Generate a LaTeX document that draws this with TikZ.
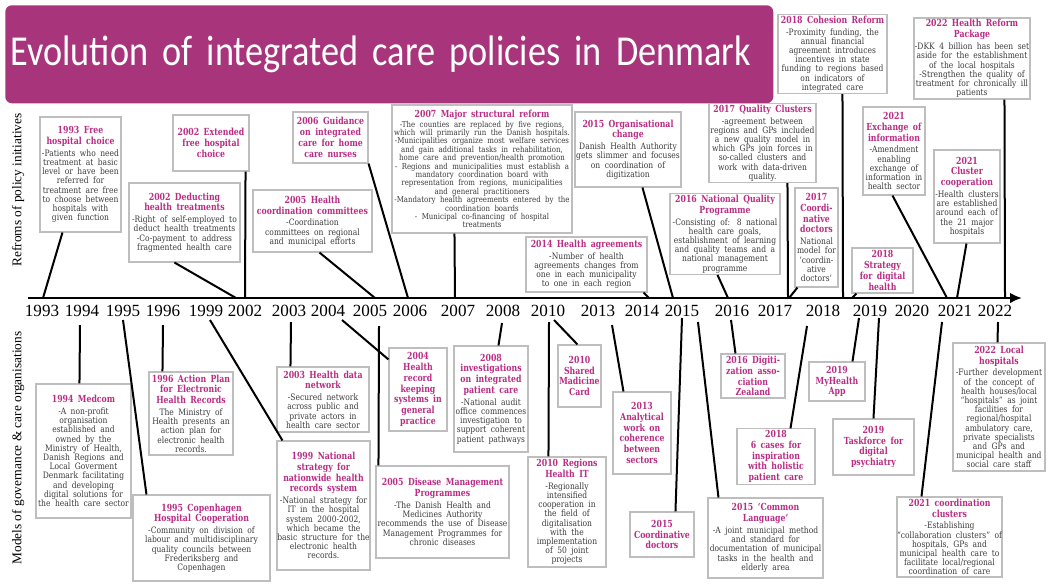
\documentclass[tikz,border=0pt]{standalone}
\usepackage{fontspec}
\setmainfont{DejaVu Serif}[FakeStretch=0.86]
\newfontfamily\headfont{DejaVu Serif}[FakeStretch=0.8]
\newfontfamily\yearfont{Liberation Serif}
\newfontfamily\sidefont{Liberation Serif}
\newfontfamily\bannerfont{Carlito}[FakeStretch=0.85]
\usetikzlibrary{calc,arrows.meta}
\definecolor{bannerc}{RGB}{168,52,124}
\definecolor{headc}{RGB}{184,46,132}
\definecolor{textc}{RGB}{60,60,60}
\definecolor{framec}{RGB}{190,190,190}
% box contents: magenta heading, grey body text
\newcommand\boxhead[1]{{\headfont\fontsize{7.3}{8.1}\selectfont\bfseries\color{headc}#1\par}}
\newcommand\boxtext[1]{{\vspace{2pt}\fontsize{6.6}{6.9}\selectfont\color{textc}#1\par}}
\newcommand\boxsmall[1]{{\vspace{1pt}\fontsize{6.1}{6.3}\selectfont\color{textc}#1\par}}
\begin{document}
\begin{tikzpicture}[x=0.75pt,y=-0.75pt,
  box/.style={draw=framec, line width=0.8pt, fill=white, align=center,
    inner xsep=-1pt, inner ysep=1pt,
    execute at begin node={\hyphenpenalty=10000\relax}},
  sz/.code 2 args={%
    \pgfmathsetlengthmacro\boxw{#1*0.75pt+2pt}%
    \pgfmathsetlengthmacro\boxh{#2*0.75pt}%
    \tikzset{text width/.expanded=\boxw, minimum height/.expanded=\boxh}},
  link/.style={line width=1.5pt, black},
  axisline/.style={line width=1.8pt, -{Latex[length=9pt,width=8pt]}},
  year/.style={font=\yearfont\fontsize{12.8}{13}\selectfont, inner sep=0pt},
  side/.style={font=\sidefont\fontsize{10}{12}\selectfont, rotate=90, inner sep=0pt},
  banner/.style={fill=bannerc, rounded corners=5pt, text=white, align=left,
    inner xsep=4pt, font=\bannerfont\fontsize{32}{34}\selectfont,
    execute at begin node={\hyphenpenalty=10000\relax}}]
\useasboundingbox (0,0) rectangle (1048,583);

% title banner
\node[banner, anchor=north west, minimum width=576pt, minimum height=73.5pt,
  text width=568pt] (title) at (5,5) {Evolution of integrated care policies in Denmark};

% side captions
\node[side] (sidetop) at (18,190) {Refroms of policy initiatives};
\node[side] (sidebot) at (18,448) {Models of governance \& care organisations};

% time axis and years
\coordinate (axstart) at (28,298);
\coordinate (axend) at (1022,298);
\draw[axisline] (axstart) -- (axend);
\foreach \yr/\xx in {1993/42,1994/82,1995/123,1996/163,1999/206,2002/245,2003/289,
  2004/328,2005/370,2006/410,2007/458,2008/503,2010/548,2013/598,2014/642,2015/682,
  2016/732,2017/775,2018/823,2019/870,2020/912,2021/955,2022/995}
  \node[year] (yr\yr) at (\xx,311) {\yr};

% ---------- reforms of policy initiatives (above the axis) ----------
\node[box, sz={81}{115}] (n1993) at (80.5,174.5) {\boxhead{1993 Free\\hospital choice}\boxtext{-Patients who need\\treatment at basic\\level or have been\\referred for\\treatment are free\\to choose between\\hospitals with\\given function}};
\node[box, sz={76}{56}] (n2002a) at (211,143) {\boxhead{2002 Extended\\free hospital\\choice}};
\node[box, sz={111}{79}] (n2002b) at (184.5,222.5) {\boxhead{2002 Deducting\\health treatments}\boxtext{-Right of self-employed to\\deduct health treatments\\-Co-payment to address\\fragmented health care}};
\node[box, sz={119}{62}] (n2005a) at (312.5,221) {\boxhead{2005 Health\\coordination committees}\boxtext{-Coordination\\committees on regional\\and municipal efforts}};
\node[box, sz={75}{51}] (n2006) at (330.5,137.5) {\boxhead{2006 Guidance\\on integrated\\care for home\\care nurses}};
\node[box, sz={180}{128}] (n2007) at (482,169) {\boxhead{2007 Major structural reform}\boxsmall{-The counties are replaced by five regions,\\which will primarily run the Danish hospitals.\\-Municipalities organize most welfare services\\and gain additional tasks in rehabilitation,\\home care and prevention/health promotion\\- Regions and municipalities must establish a\\mandatory coordination board with\\representation from regions, municipalities\\and general practitioners\\-Mandatory health agreements entered by the\\coordination boards\\- Municipal co-financing of hospital\\treatments}};
\node[box, sz={106}{75}] (n2015a) at (628,149.5) {\boxhead{2015 Organisational\\change}\boxtext{Danish Health Authority\\gets slimmer and focuses\\on coordination of\\digitization}};
\node[box, sz={121}{55}] (n2014) at (586.5,264.5) {\boxhead{2014 Health agreements}\boxtext{-Number of health\\agreements changes from\\one in each municipality\\to one in each region}};
\node[box, sz={110}{78}] (n2016a) at (725,234) {\boxhead{2016 National Quality\\Programme}\boxtext{-Consisting of: 8 national\\health care goals,\\establishment of learning\\and quality teams and a\\national management\\programme}};
\node[box, sz={107}{74}] (n2017a) at (762.5,143) {\boxhead{2017 Quality Clusters}\boxtext{-agreement between\\regions and GPs included\\a new quality model in\\which GPs join forces in\\so-called clusters and\\work with data-driven\\quality.}};
\node[box, sz={43}{99}] (n2017b) at (816.5,237.5) {\boxhead{2017\\Coordi-\\native\\doctors}\boxtext{National\\model for\\‘coordin-\\ative\\doctors’}};
\node[box, sz={109}{76}] (n2018a) at (832.5,54) {\boxhead{2018 Cohesion Reform}\boxtext{-Proximity funding, the\\annual financial\\agreement introduces\\incentives in state\\funding to regions based\\on indicators of\\integrated care}};
\node[box, sz={61}{45}] (n2018b) at (882.5,270.5) {\boxhead{2018\\Strategy\\for digital\\health}};
\node[box, sz={62}{88}] (n2021a) at (894,151) {\boxhead{2021\\Exchange of\\information}\boxtext{-Amendment\\enabling\\exchange of\\information in\\health sector}};
\node[box, sz={66}{93}] (n2021b) at (967,196.5) {\boxhead{2021\\Cluster\\cooperation}\boxtext{-Health clusters\\are established\\around each of\\the 21 major\\hospitals}};
\node[box, sz={116}{81}] (n2022a) at (972,58.5) {\boxhead{2022 Health Reform\\Package}\boxtext{-DKK 4 billion has been set\\aside for the establishment\\of the local hospitals\\-Strengthen the quality of\\treatment for chronically ill\\patients}};

% ---------- models of governance & care organisations (below the axis) ----------
\node[box, sz={95}{134}] (n1994) at (83.5,451) {\boxhead{1994 Medcom}\boxtext{-A non-profit\\organisation\\established and\\owned by the\\Ministry of Health,\\Danish Regions and\\Local Goverment\\Denmark facilitating\\and developing\\digital solutions for\\the health care sector}};
\node[box, sz={84}{83}] (n1996) at (191,413.5) {\boxhead{1996 Action Plan\\for Electronic\\Health Records}\boxtext{The Ministry of\\Health presents an\\action plan for\\electronic health\\records.}};
\node[box, sz={137}{86}] (n1995) at (201.5,538) {\boxhead{1995 Copenhagen\\Hospital Cooperation}\boxtext{-Community on division of\\labour and multidisciplinary\\quality councils between\\Frederiksberg and\\Copenhagen}};
\node[box, sz={92}{65}] (n2003) at (323,399.5) {\boxhead{2003 Health data\\network}\boxtext{-Secured network\\across public and\\private actors in\\health care sector}};
\node[box, sz={93}{129}] (n1999) at (323.5,505.5) {\boxhead{1999 National\\strategy for\\nationwide health\\records system}\boxtext{-National strategy for\\IT in the hospital\\system 2000-2002,\\which became the\\basic structure for the\\electronic health\\records.}};
\node[box, sz={58}{83}] (n2004) at (418,389.5) {\boxhead{2004\\Health\\record\\keeping\\systems in\\general\\practice}};
\node[box, sz={133}{92}] (n2005b) at (442.5,512) {\boxhead{2005 Disease Management\\Programmes}\boxtext{-The Danish Health and\\Medicines Authority\\recommends the use of Disease\\Management Programmes for\\chronic diseases}};
\node[box, sz={74}{106}] (n2008) at (491,399) {\boxhead{2008\\investigations\\on integrated\\patient care}\boxtext{-National audit\\office commences\\investigation to\\support coherent\\patient pathways}};
\node[box, sz={43}{62}] (n2010a) at (579.5,376) {\boxhead{2010\\Shared\\Madicine\\Card}};
\node[box, sz={78}{110}] (n2010b) at (567,512) {\boxhead{2010 Regions\\Health IT}\boxtext{-Regionally\\intensified\\cooperation in\\the field of\\digitalisation\\with the\\implementation\\of 50 joint\\projects}};
\node[box, sz={58}{82}] (n2013) at (642,433) {\boxhead{2013\\Analytical\\work on\\coherence\\between\\sectors}};
\node[box, sz={64}{45}] (n2015b) at (662,534.5) {\boxhead{2015\\Coordinative\\doctors}};
\node[box, sz={115}{80}] (n2015c) at (765.5,538) {\boxhead{2015 ‘Common\\Language’}\boxtext{-A joint municipal method\\and standard for\\documentation of municipal\\tasks in the health and\\elderly area}};
\node[box, sz={64}{44}] (n2016b) at (753,376) {\boxhead{2016 Digiti-\\zation asso-\\ciation\\Zealand}};
\node[box, sz={78}{53}] (n2018c) at (776,456.5) {\boxhead{2018\\6 cases for\\inspiration\\with holistic\\patient care}};
\node[box, sz={56}{39}] (n2019a) at (837,381.5) {\boxhead{2019\\MyHealth\\App}};
\node[box, sz={81}{56}] (n2019b) at (873.5,447) {\boxhead{2019\\Taskforce for\\digital\\psychiatry}};
\node[box, sz={105}{80}] (n2021c) at (949.5,537) {\boxhead{2021 coordination\\clusters}\boxtext{-Establishing\\“collaboration clusters” of\\hospitals, GPs and\\municipal health care to\\facilitate local/regional\\coordination of care}};
\node[box, sz={92}{128}] (n2022b) at (999,407) {\boxhead{2022 Local\\hospitals}\boxtext{-Further development\\of the concept of\\health houses/local\\“hospitals” as joint\\facilities for\\regional/hospital\\ambulatory care,\\private specialists\\and GPs and\\municipal health and\\social care staff}};

% ---------- connectors to the axis (upper part) ----------
\coordinate (t1993) at (43,298);
\coordinate (t2002a) at (245,298);
\coordinate (t2002b) at (236,298);
\coordinate (t2005) at (375,298);
\coordinate (t2006) at (408,298);
\coordinate (t2007) at (455,298);
\coordinate (t2015) at (673,298);
\coordinate (t2014) at (649,298);
\coordinate (t2016) at (728,298);
\coordinate (t2017a) at (788,298);
\coordinate (t2017b) at (789,298);
\coordinate (t2018a) at (843,298);
\coordinate (t2018b) at (852,298);
\coordinate (t2021a) at (947,298);
\coordinate (t2021b) at (957,298);
\coordinate (t2022) at (1005,298);
\draw[link] ($(n1993.south west)+(23,0)$) -- (t1993);
\draw[link] ($(n2002a.south east)+(-4,0)$) -- (t2002a);
\draw[link] ($(n2002b.south west)+(46,0)$) -- (t2002b);
\draw[link] ($(n2005a.south west)+(67,0)$) -- (t2005);
\draw[link] (n2006.south east) -- (t2006);
\draw[link] ($(n2007.south west)+(63,0)$) -- (t2007);
\draw[link] ($(n2015a.south west)+(68,0)$) -- (t2015);
\draw[link] ($(n2014.south east)+(-4,0)$) -- (t2014);
\draw[link] ($(n2016a.south west)+(48,0)$) -- (t2016);
\draw[link] ($(n2017a.south west)+(79,0)$) -- (t2017a);
\draw[link] ($(n2017b.south west)+(3,0)$) -- (t2017b);
\draw[link] ($(n2018a.south west)+(65,0)$) -- (t2018a);
\draw[link] ($(n2018b.south west)+(5,0)$) -- (t2018b);
\draw[link] ($(n2021a.south west)+(30,0)$) -- (t2021a);
\draw[link] ($(n2021b.south west)+(33,0)$) -- (t2021b);
\draw[link] ($(n2022a.south west)+(91,0)$) -- (t2022);

% ---------- connectors from the years (lower part) ----------
\coordinate (b1994) at (80,325);
\coordinate (b1996) at (163,325);
\coordinate (b1995) at (123,320);
\coordinate (b2003) at (291,322);
\coordinate (b1999) at (210,320);
\coordinate (b2004) at (342,320);
\coordinate (b2005) at (379,326);
\coordinate (b2008) at (502,323);
\coordinate (b2010a) at (554,320);
\coordinate (b2010b) at (549,322);
\coordinate (b2013) at (612,325);
\coordinate (b2015a) at (682,318);
\coordinate (b2015b) at (698,322);
\coordinate (b2016) at (731,320);
\coordinate (b2018) at (807,326);
\coordinate (b2019a) at (859,318);
\coordinate (b2019b) at (879,318);
\coordinate (b2021) at (942,322);
\coordinate (b2022) at (998,322);
\draw[link] (b1994) -- ($(n1994.north west)+(44,0)$);
\draw[link] (b1996) -- ($(n1996.north west)+(14,0)$);
\draw[link] (b1995) -- ($(n1995.north west)+(14,0)$);
\draw[link] (b2003) -- ($(n2003.north west)+(14,0)$);
\draw[link] (b1999) -- ($(n1999.north west)+(6,0)$);
\draw[link] (b2004) -- ($(n2004.north west)+(0,12)$);
\draw[link] (b2005) -- ($(n2005b.north west)+(3,0)$);
\draw[link] (b2008) -- ($(n2008.north west)+(45,0)$);
\draw[link] (b2010a) -- ($(n2010a.north west)+(20,0)$);
\draw[link] (b2010b) -- ($(n2010b.north west)+(21,0)$);
\draw[link] (b2013) -- ($(n2013.north west)+(11,0)$);
\draw[link] (b2015a) -- ($(n2015b.north west)+(46,0)$);
\draw[link] (b2015b) -- ($(n2015c.north west)+(11,0)$);
\draw[link] (b2016) -- ($(n2016b.north west)+(15,0)$);
\draw[link] (b2018) -- ($(n2018c.north west)+(54,0)$);
\draw[link] (b2019a) -- ($(n2019a.north west)+(44,0)$);
\draw[link] (b2019b) -- ($(n2019b.north west)+(41,0)$);
\draw[link] (b2021) -- ($(n2021c.north west)+(25,0)$);
\draw[link] (b2022) -- ($(n2022b.north west)+(45,0)$);
\end{tikzpicture}
\end{document}
